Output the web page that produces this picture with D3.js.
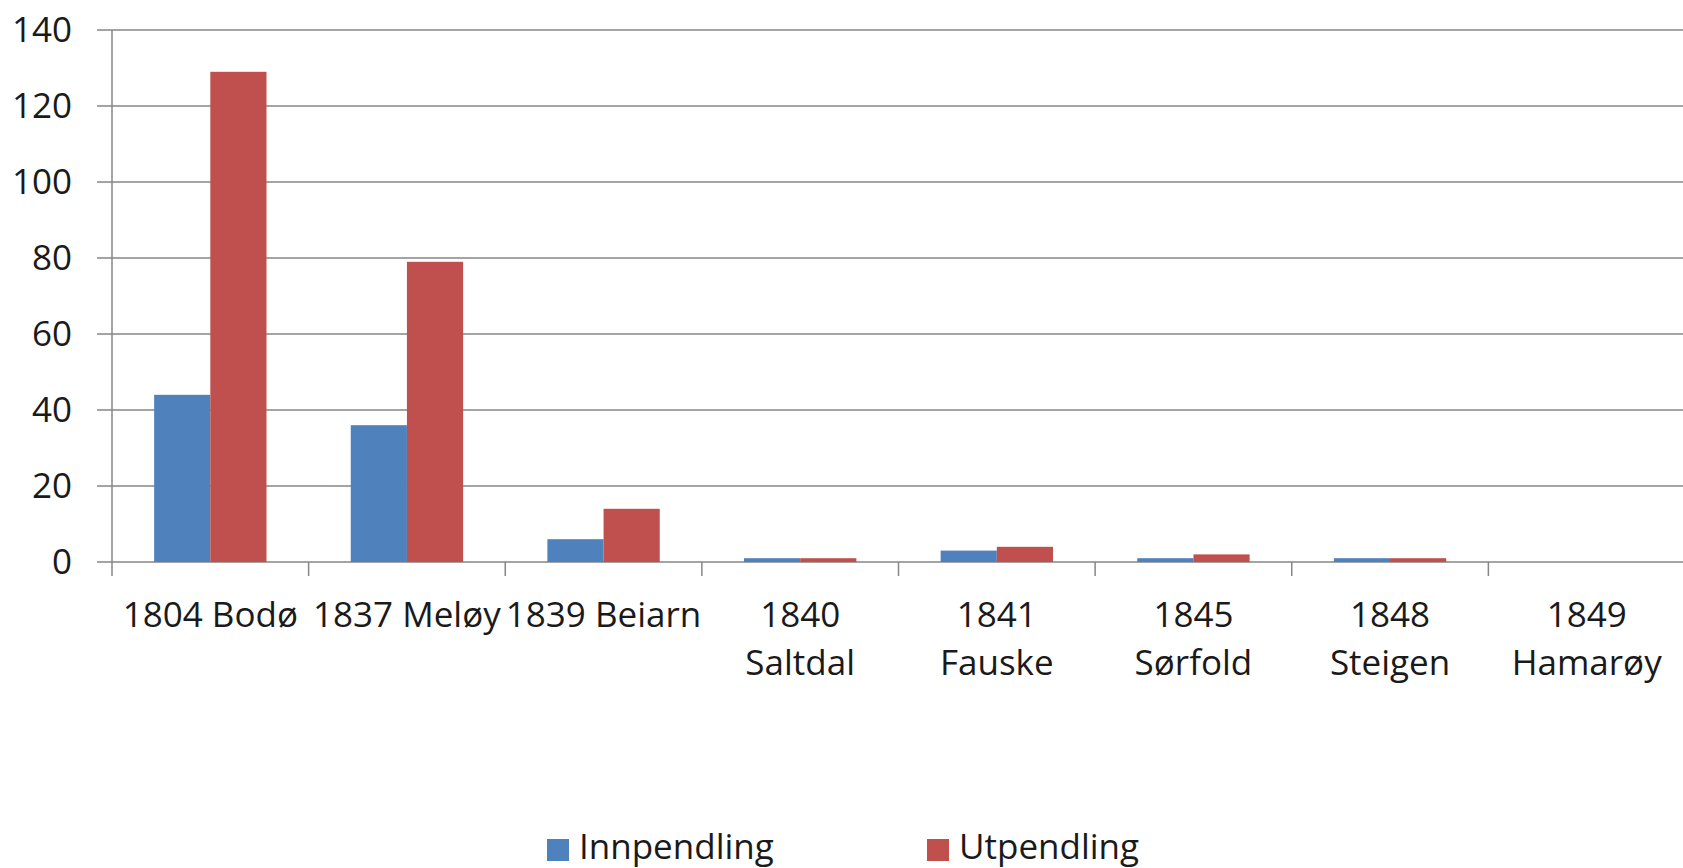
<!DOCTYPE html>
<html>
<head>
<meta charset="utf-8">
<script src="https://cdn.jsdelivr.net/npm/d3@7"></script>
<style>
  body { margin: 0; background: #fff; }
  text { font-family: "Open Sans", sans-serif; fill: #1a1a1a; }
</style>
</head>
<body>
<script>
// categories (tick label lines as they are wrapped in the chart)
var categories = ["1804 Bodø", "1837 Meløy", "1839 Beiarn", "1840 Saltdal",
                  "1841 Fauske", "1845 Sørfold", "1848 Steigen", "1849 Hamarøy"];
var categoryLines = [["1804 Bodø"], ["1837 Meløy"], ["1839 Beiarn"], ["1840", "Saltdal"],
                     ["1841", "Fauske"], ["1845", "Sørfold"], ["1848", "Steigen"], ["1849", "Hamarøy"]];

// series values
var series = ["Innpendling", "Utpendling"];
var innpendling = [44, 36, 6, 1, 3, 1, 1, 0];
var utpendling = [129, 79, 14, 1, 4, 2, 1, 0];
var yTicks = [0, 20, 40, 60, 80, 100, 120, 140];

var colors = {Innpendling: "#4F81BD", Utpendling: "#C0504D"};

var W = 1683, H = 868;
var margin = {top: 30, right: -2, bottom: 306, left: 112},
    width = W - margin.left - margin.right,
    height = H - margin.top - margin.bottom;

var svg = d3.select("body")
    .append("svg")
        .attr("width", W)
        .attr("height", H)
    .append("g")
        .attr("transform", "translate(" + margin.left + "," + margin.top + ")");

var data = categories.map(function(c, i) {
  return {cat: c, lines: categoryLines[i], Innpendling: innpendling[i], Utpendling: utpendling[i]};
});

// set the ranges
var x0 = d3.scaleBand().domain(categories).range([0, width]);
var bw = x0.bandwidth() / 3.5;   // gap width 150%
var x1 = d3.scaleBand().domain(series).range([bw * 0.75, bw * 2.75]);
var y = d3.scaleLinear().domain([0, 140]).range([height, 0]);

var grey = "#868686";
var fontSize = "35px";

// gridlines
svg.append("g")
  .selectAll("line")
  .data(yTicks)
  .enter().append("line")
    .attr("x1", -15)
    .attr("x2", width + 4)
    .attr("y1", function(d) { return y(d); })
    .attr("y2", function(d) { return y(d); })
    .style("stroke", grey)
    .style("stroke-width", 1.5);

// y axis labels
svg.append("g")
  .selectAll("text")
  .data(yTicks)
  .enter().append("text")
    .attr("x", -40)
    .attr("y", function(d) { return y(d); })
    .attr("dy", "0.35em")
    .attr("text-anchor", "end")
    .style("font-size", fontSize)
    .text(function(d) { return d; });

// bars
var groups = svg.append("g")
  .selectAll("g")
  .data(data)
  .enter().append("g")
    .attr("transform", function(d) { return "translate(" + x0(d.cat) + ",0)"; });

groups.selectAll("rect")
  .data(function(d) { return series.map(function(s) { return {key: s, value: d[s]}; }); })
  .enter().append("rect")
    .attr("x", function(d) { return x1(d.key); })
    .attr("width", x1.bandwidth())
    .attr("y", function(d) { return y(d.value); })
    .attr("height", function(d) { return height - y(d.value); })
    .style("fill", function(d) { return colors[d.key]; });

// y axis line
svg.append("line")
    .attr("x1", 0).attr("x2", 0)
    .attr("y1", 0).attr("y2", height + 14)
    .style("stroke", grey)
    .style("stroke-width", 1.5);

// x axis category ticks
svg.append("g")
  .selectAll("line")
  .data(categories.slice(1))
  .enter().append("line")
    .attr("x1", function(d) { return x0(d); })
    .attr("x2", function(d) { return x0(d); })
    .attr("y1", height)
    .attr("y2", height + 14)
    .style("stroke", grey)
    .style("stroke-width", 1.5);

// x axis labels
var labels = svg.append("g")
  .selectAll("text")
  .data(data)
  .enter().append("text")
    .attr("x", function(d) { return x0(d.cat) + x0.bandwidth() / 2; })
    .attr("y", height + 65)
    .attr("text-anchor", "middle")
    .style("font-size", fontSize);

labels.selectAll("tspan")
  .data(function(d) { return d.lines; })
  .enter().append("tspan")
    .attr("x", function() { return d3.select(this.parentNode).attr("x"); })
    .attr("dy", function(d, i) { return i ? 48 : 0; })
    .text(function(d) { return d; });

// legend
var legendX = [547 - margin.left, 927 - margin.left];
var legend = svg.append("g")
  .selectAll("g")
  .data(series)
  .enter().append("g")
    .attr("transform", function(d, i) { return "translate(" + legendX[i] + "," + (839 - margin.top) + ")"; });

legend.append("rect")
    .attr("width", 22)
    .attr("height", 22)
    .style("fill", function(d) { return colors[d]; });

legend.append("text")
    .attr("x", 32)
    .attr("y", 20)
    .style("font-size", fontSize)
    .text(function(d) { return d; });
</script>
</body>
</html>
